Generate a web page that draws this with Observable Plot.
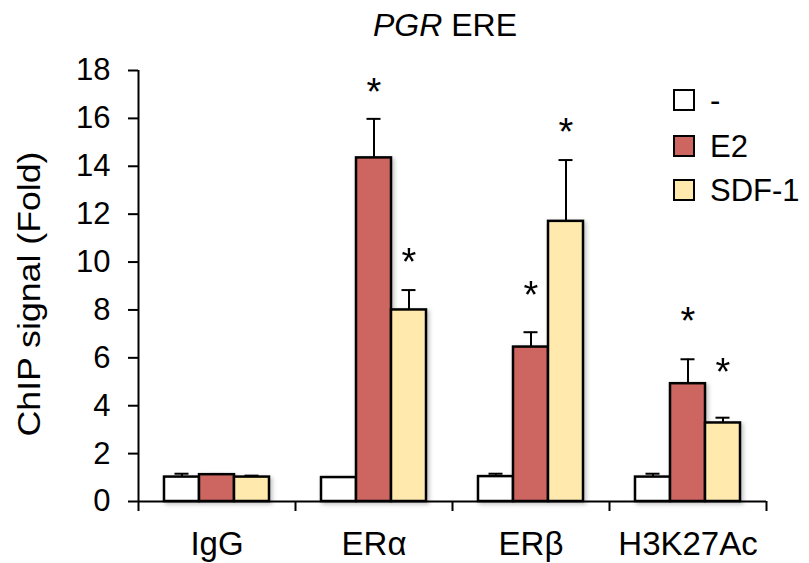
<!DOCTYPE html>
<html><head><meta charset="utf-8">
<script src="https://cdn.jsdelivr.net/npm/d3@7"></script>
<script src="https://cdn.jsdelivr.net/npm/@observablehq/plot@0.6"></script>
<style>
html,body{margin:0;padding:0;background:#fff;}
#wrap{position:relative;width:809px;height:563px;font-family:"Liberation Sans",Arial,sans-serif;color:#000;}
#title{position:absolute;left:295px;width:300px;top:9px;text-align:center;font-size:32px;line-height:32px;}
.sw{position:absolute;width:22px;height:22px;box-sizing:border-box;border:2.5px solid #000;}
.lt{position:absolute;font-size:31px;line-height:31px;white-space:nowrap;}
</style></head>
<body><div id="wrap"><div id="title"><i>PGR</i> ERE</div></div>
<script>
const categories = ["IgG", "ERα", "ERβ", "H3K27Ac"];
const series = ["-", "E2", "SDF-1"];
const colors = ["#ffffff", "#cd6660", "#ffe9ad"];
const valNone = [1.02, 1.0, 1.04, 1.02];
const valE2 = [1.12, 14.35, 6.45, 4.92];
const valSDF = [1.02, 8.0, 11.7, 3.28];
const errNone = [0.14, 0, 0.12, 0.14];
const errE2 = [0.03, 1.63, 0.62, 1.02];
const errSDF = [0.06, 0.83, 2.56, 0.22];
const starE2 = [null, 17.5, 9.0, 7.9];
const starSDF = [null, 10.4, 15.8, 5.8];
const yTicks = [0, 2, 4, 6, 8, 10, 12, 14, 16, 18];
const yLabel = "ChIP signal (Fold)";

const vals = [valNone, valE2, valSDF];
const errs = [errNone, errE2, errSDF];
const stars = [[], starE2, starSDF];
const rows = [];
const starRows = [];
categories.forEach((c, i) => series.forEach((s, j) => {
  rows.push({cat: c, series: s, value: vals[j][i], err: errs[j][i]});
  if (stars[j][i] != null) starRows.push({cat: c, series: s, level: stars[j][i]});
}));

const W = 809, H = 563, ML = 138, MR = 43, MT = 70, MB = 62;
const fw = (W - ML - MR) / categories.length;
const font = 31;
const xFont = 33;
const starFont = 38;

const chart = Plot.plot({
  width: W, height: H,
  marginLeft: ML, marginRight: MR, marginTop: MT, marginBottom: MB,
  style: {fontFamily: '"Liberation Sans", Arial, sans-serif', fontSize: font + "px", color: "#000", background: "transparent", overflow: "visible"},
  fx: {domain: categories, padding: 0, axis: null, label: null},
  x: {domain: series, paddingInner: 0, paddingOuter: 0.72, axis: null},
  y: {domain: [0, 18], axis: null},
  color: {domain: series, range: colors},
  marks: [
    Plot.ruleX(rows.filter(d => d.err > 0), {fx: "cat", x: "series", y1: "value", y2: d => d.value + d.err, stroke: "#000", strokeWidth: 2}),
    Plot.tickY(rows.filter(d => d.err > 0), {fx: "cat", x: "series", y: d => d.value + d.err, stroke: "#000", strokeWidth: 2, insetLeft: 10.5, insetRight: 10.5}),
    Plot.barY(rows, {fx: "cat", x: "series", y: "value", fill: "series", stroke: "#000", strokeWidth: 2.5}),
    Plot.text(starRows, {fx: "cat", x: "series", y: "level", text: () => "*", fontSize: starFont, dy: starFont * 0.26}),
    Plot.ruleY([0], {stroke: "#000", strokeWidth: 2}),
    Plot.ruleX([categories[0]], {fx: d => d, x: null, y1: 0, y2: 18, dx: -fw / 2, stroke: "#000", strokeWidth: 2}),
    Plot.axisY({ticks: yTicks, tickSize: 10, tickPadding: 18, strokeWidth: 2, fontSize: font, label: null}),
    Plot.axisFx({anchor: "bottom", tickSize: 10, dx: -fw / 2, tickFormat: () => "", strokeWidth: 2, label: null}),
    Plot.axisFx({anchor: "bottom", ticks: [categories[categories.length - 1]], tickSize: 10, dx: fw / 2, tickFormat: () => "", strokeWidth: 2, label: null}),
    Plot.axisFx({anchor: "bottom", tickSize: 0, tickPadding: 30, fontSize: xFont, label: null})
  ]
});
const wrap = document.getElementById("wrap");
wrap.insertBefore(chart, wrap.firstChild);
chart.style.position = "absolute"; chart.style.left = "0"; chart.style.top = "0";
chart.querySelectorAll('g[aria-label="bar"]').forEach(g => {
  g.style.filter = "drop-shadow(2px 2px 2px rgba(0,0,0,0.25))";
});

// y-axis title, rotated, centred beside the plot frame
d3.select(chart).append("text")
  .attr("transform", `translate(28,294) rotate(-90)`)
  .attr("text-anchor", "middle")
  .attr("dy", "0.36em")
  .attr("font-size", 32)
  .attr("textLength", 285)
  .attr("lengthAdjust", "spacingAndGlyphs")
  .attr("fill", "#000")
  .text(yLabel);

const legendY = [100, 146, 190];
series.forEach((s, j) => {
  const sw = document.createElement("div");
  sw.className = "sw";
  sw.style.left = "673px"; sw.style.top = (legendY[j] - 11) + "px";
  sw.style.background = colors[j];
  wrap.appendChild(sw);
  const t = document.createElement("div");
  t.className = "lt";
  t.style.left = "710px"; t.style.top = (legendY[j] - 15) + "px";
  t.textContent = s;
  wrap.appendChild(t);
});
</script></body></html>
